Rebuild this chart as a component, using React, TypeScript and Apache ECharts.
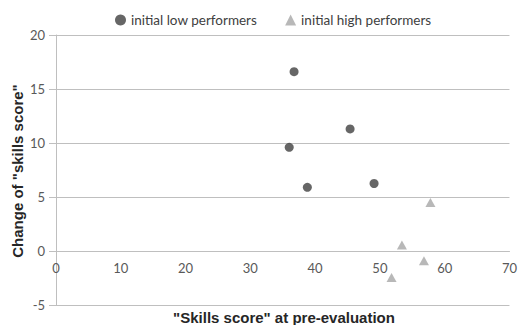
import React, { useEffect, useRef } from "react";
import * as echarts from "echarts";

const lowPerformers: [number, number][] = [
  [36.75, 16.6],
  [45.4, 11.3],
  [36.0, 9.6],
  [38.8, 5.9],
  [49.1, 6.25],
];
const highPerformers: [number, number][] = [
  [57.8, 4.5],
  [53.4, 0.55],
  [56.8, -0.9],
  [51.8, -2.45],
];
const seriesNames = ["initial low performers", "initial high performers"];
const xTitle = '"Skills score" at pre-evaluation';
const yTitle = 'Change of "skills score"';

export default function App() {
  const ref = useRef<HTMLDivElement>(null);
  useEffect(() => {
    if (!ref.current) return;
    const chart = echarts.init(ref.current, undefined, { renderer: "svg" });
    const labelFont = "Lato, 'Open Sans', sans-serif";
    chart.setOption({
      animation: false,
      backgroundColor: "#ffffff",
      grid: { left: 56, right: 7, top: 35, bottom: 20, containLabel: false },
      legend: {
        top: 8,
        left: 110,
        itemGap: 28,
        itemWidth: 11,
        itemHeight: 11,
        textStyle: { fontFamily: labelFont, fontSize: 13.5, color: "#404040" },
        data: [
          { name: seriesNames[0], icon: "circle" },
          { name: seriesNames[1], icon: "triangle" },
        ],
      },
      xAxis: {
        type: "value",
        min: 0,
        max: 70,
        interval: 10,
        offset: -54,
        splitLine: { show: false },
        axisLine: { show: true, onZero: false, lineStyle: { color: "#bfbfbf", width: 1 } },
        axisTick: { show: false },
        axisLabel: { color: "#595959", fontSize: 13, fontFamily: labelFont, margin: 10 },
      },
      yAxis: {
        type: "value",
        min: -5,
        max: 20,
        interval: 5,
        splitLine: { show: true, lineStyle: { color: "#bfbfbf", width: 1 } },
        axisLine: { show: true, onZero: false, lineStyle: { color: "#bfbfbf", width: 1 } },
        axisTick: { show: true, length: 7, lineStyle: { color: "#bfbfbf" } },
        axisLabel: { color: "#595959", fontSize: 13, fontFamily: labelFont, margin: 11 },
      },
      graphic: [
        {
          type: "text",
          x: 284,
          y: 317,
          style: {
            text: xTitle,
            align: "center",
            verticalAlign: "middle",
            fontSize: 15,
            fontWeight: "bold",
            fontFamily: "'Liberation Sans', Arial, sans-serif",
            fill: "#262626",
          },
        },
        {
          type: "text",
          x: 17,
          y: 171,
          rotation: Math.PI / 2,
          style: {
            text: yTitle,
            align: "center",
            verticalAlign: "middle",
            fontSize: 15,
            fontWeight: "bold",
            fontFamily: "'Liberation Sans', Arial, sans-serif",
            fill: "#262626",
          },
        },
      ],
      series: [
        {
          name: seriesNames[0],
          type: "scatter",
          symbol: "circle",
          symbolSize: 9,
          itemStyle: { color: "#404040" },
          data: lowPerformers,
        },
        {
          name: seriesNames[1],
          type: "scatter",
          symbol: "triangle",
          symbolSize: [10, 9],
          itemStyle: { color: "#a6a6a6" },
          data: highPerformers,
        },
      ],
    });
    return () => chart.dispose();
  }, []);
  return <div ref={ref} style={{ width: 520, height: 325, position: "absolute", left: 0, top: 0 }} />;
}
